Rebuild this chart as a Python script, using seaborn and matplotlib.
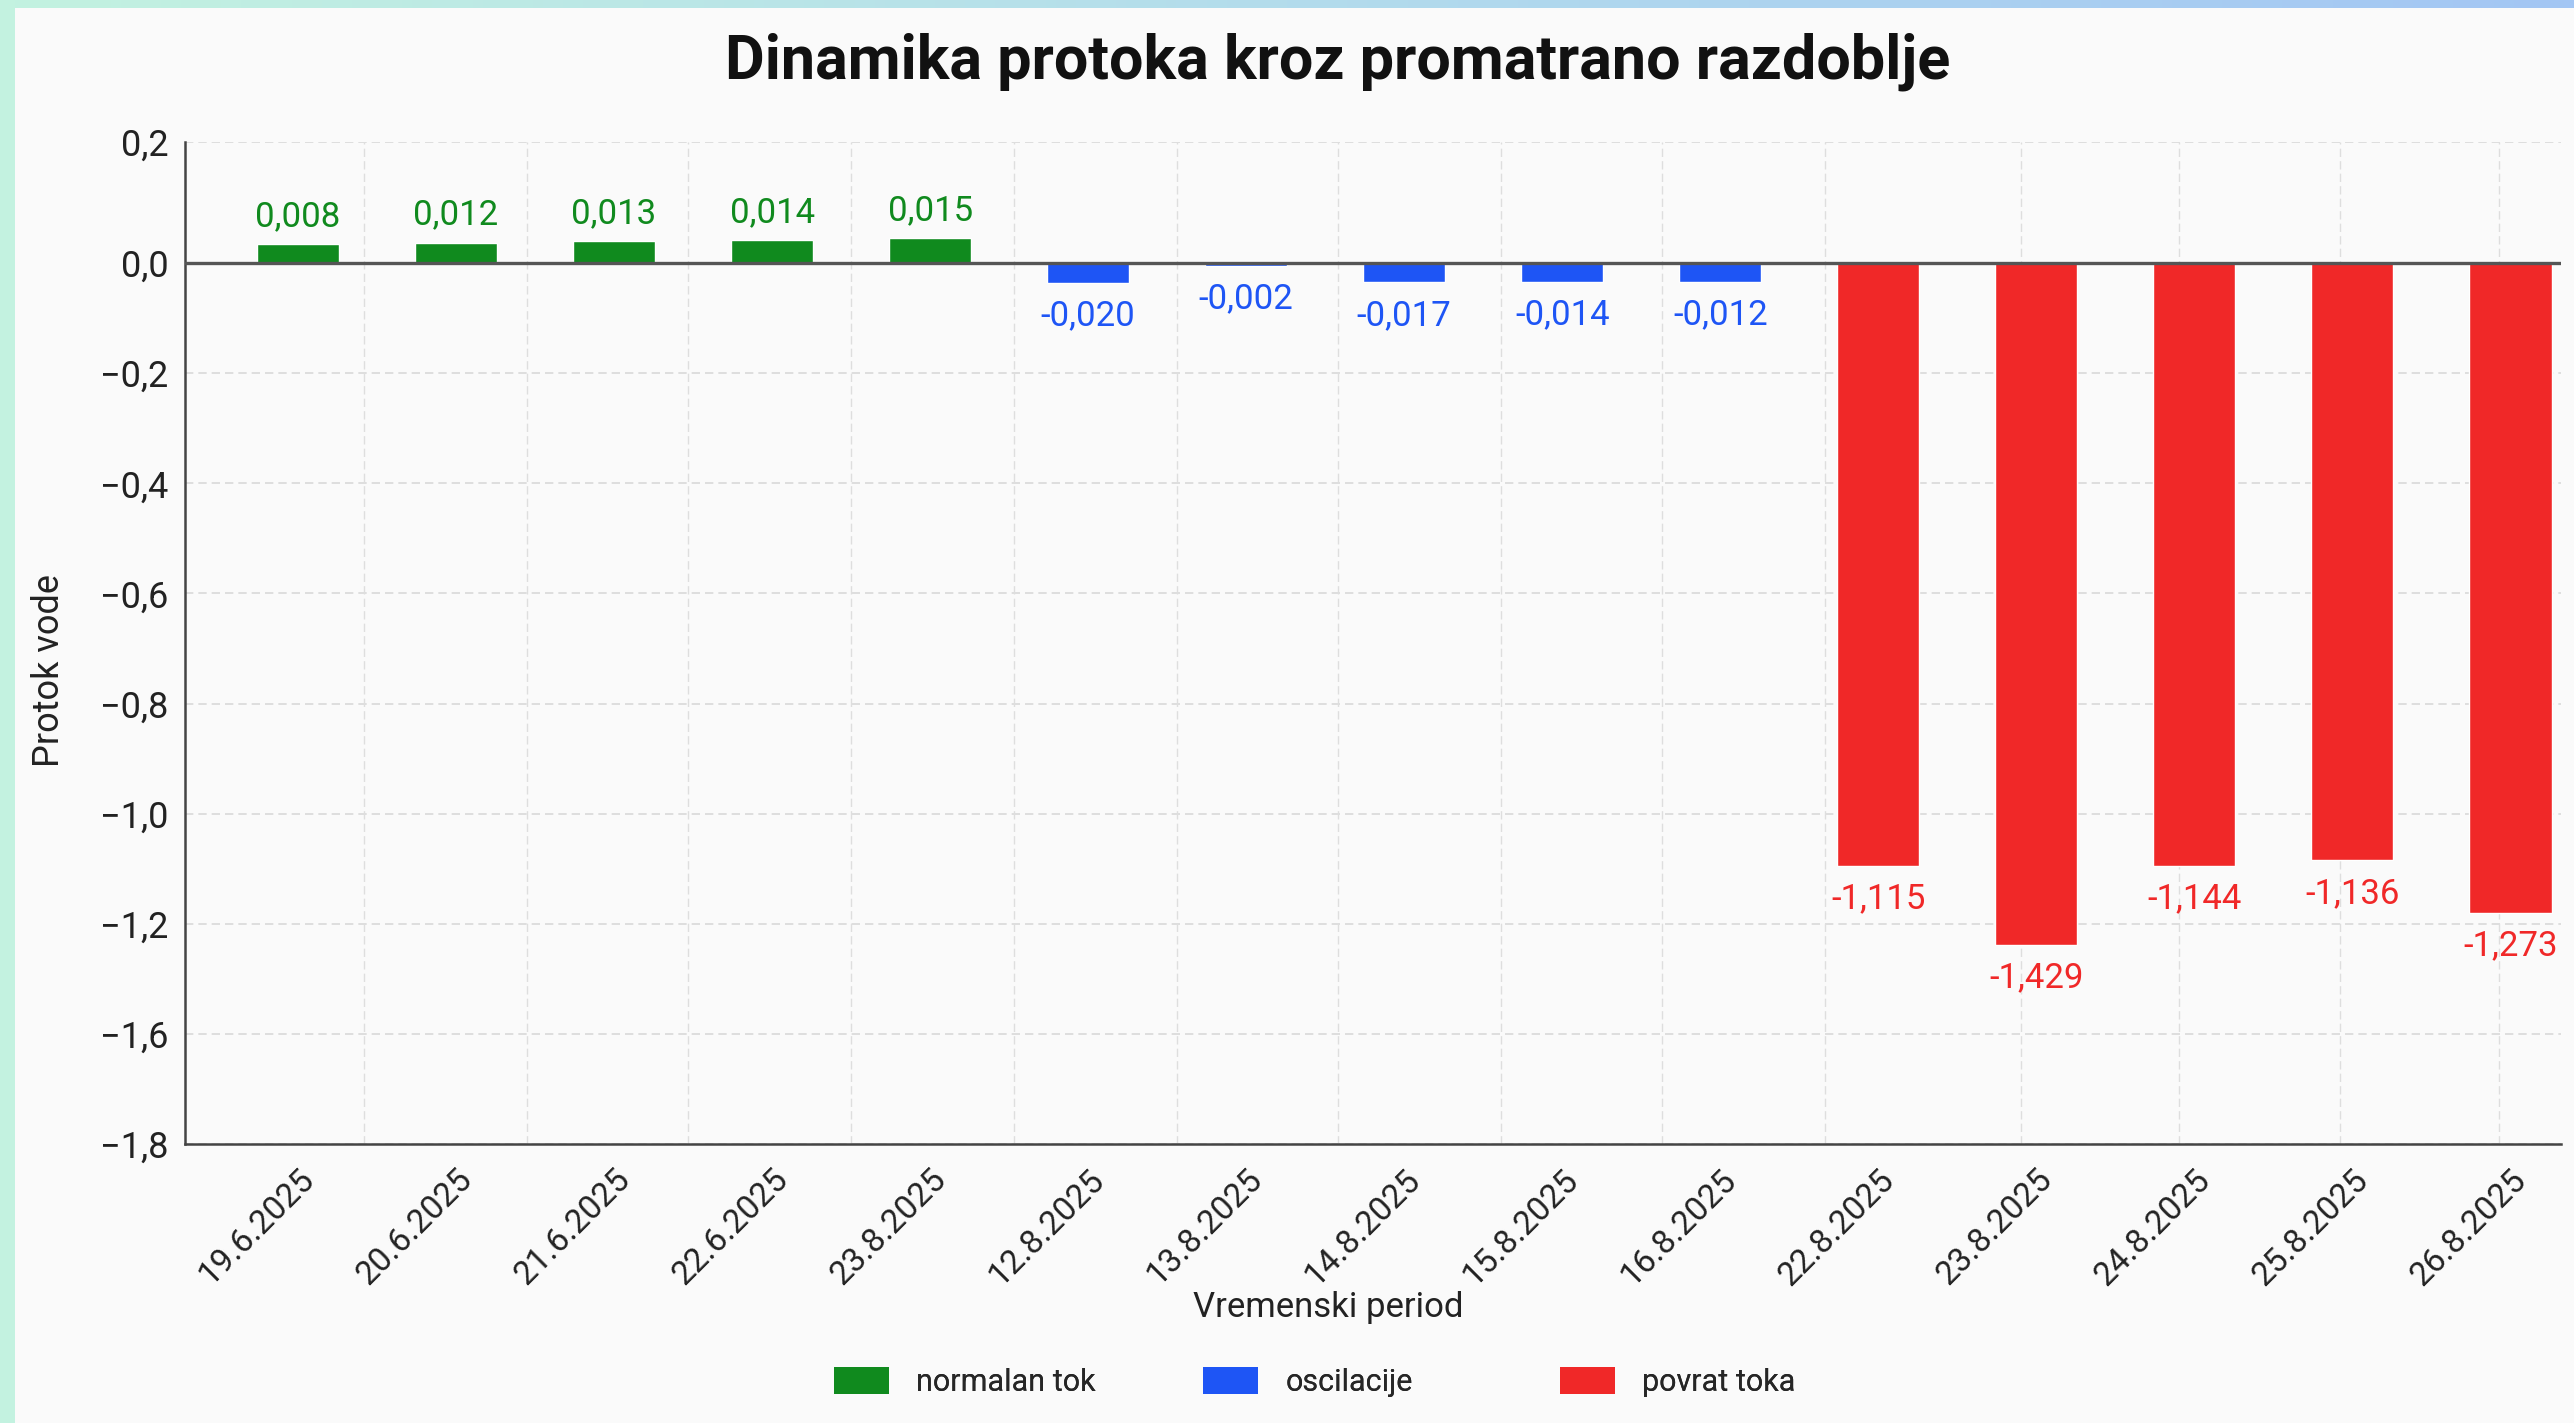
import numpy as np
import matplotlib
matplotlib.use("Agg")
import matplotlib.pyplot as plt
from matplotlib.patches import Patch, Rectangle
import pandas as pd
import seaborn as sns

# ----------------------------
# PODACI
# ----------------------------
datumi = ['19.6.2025', '20.6.2025', '21.6.2025', '22.6.2025', '23.8.2025',
          '12.8.2025', '13.8.2025', '14.8.2025', '15.8.2025', '16.8.2025',
          '22.8.2025', '23.8.2025 ', '24.8.2025', '25.8.2025', '26.8.2025']
kategorije = ['normalan tok'] * 5 + ['oscilacije'] * 5 + ['povrat toka'] * 5
# visina stupca kako je nacrtana na slici
visine = [0.034, 0.037, 0.040, 0.042, 0.045,
          -0.036, -0.005, -0.035, -0.034, -0.034,
          -1.095, -1.238, -1.095, -1.085, -1.180]
# vrijednosti ispisane iznad / ispod stupaca
oznake = ['0,008', '0,012', '0,013', '0,014', '0,015',
          '-0,020', '-0,002', '-0,017', '-0,014', '-0,012',
          '-1,115', '-1,429', '-1,144', '-1,136', '-1,273']
y_oznake = ['0,2', '0,0', '\u22120,2', '\u22120,4', '\u22120,6', '\u22120,8',
            '\u22121,0', '\u22121,2', '\u22121,6', '\u22121,8']

boje = {'normalan tok': '#108a1e', 'oscilacije': '#1e55f5', 'povrat toka': '#f02828'}

df = pd.DataFrame({'datum': datumi, 'kategorija': kategorije, 'visina': visine})

# ----------------------------
# STIL
# ----------------------------
sns.set_theme(style='white')
plt.rcParams['font.family'] = ['Roboto', 'DejaVu Sans']
pozadina = '#fafafa'

fig = plt.figure(figsize=(25.74, 14.23), dpi=100, facecolor=pozadina)
ax = fig.add_axes([185 / 2574, 1 - 1144 / 1423, (2561 - 185) / 2574, (1144 - 142) / 1423])
ax.set_facecolor(pozadina)

sns.barplot(data=df, x='datum', y='visina', hue='kategorija', palette=boje,
            dodge=False, width=0.52, saturation=1, legend=False, ax=ax)

# oznake vrijednosti
for i, (h, txt, kat) in enumerate(zip(visine, oznake, kategorije)):
    if h >= 0:
        ax.annotate(txt, (i, h), xytext=(0, 8), textcoords='offset points',
                    ha='center', va='bottom', fontsize=25, color=boje[kat])
    else:
        ax.annotate(txt, (i, h), xytext=(0, -12), textcoords='offset points',
                    ha='center', va='top', fontsize=25, color=boje[kat])

# osi
y_pozicije = [0.22, 0.0, -0.2, -0.4, -0.6, -0.8, -1.0, -1.2, -1.4, -1.6]
ax.set_ylim(-1.6, 0.22)
ax.set_xlim(-0.715, 14.32)
ax.set_yticks(y_pozicije)
ax.set_yticklabels(y_oznake, fontsize=26, color='#222222')
ax.set_xticks(range(len(datumi)))
ax.set_xticklabels([d.strip() for d in datumi], rotation=45, ha='right',
                   rotation_mode='anchor', fontsize=24, color='#222222')
ax.tick_params(axis='y', length=0, pad=12)
ax.tick_params(axis='x', length=0, pad=14)
ax.set_xlabel('')
ax.set_ylabel('')

# mreza
for y in y_pozicije:
    ax.axhline(y, color='#d9d9d9', lw=1.2, ls=(0, (5, 3)), zorder=0)
v_mreza = [0.42, 1.45, 2.47, 3.50, 4.53, 5.56, 6.58, 7.61, 8.63, 9.66,
           10.90, 11.90, 12.92, 13.93]
for x in v_mreza:
    ax.axvline(x, color='#dedede', lw=1.0, ls=(0, (6, 3)), zorder=0)
ax.axhline(0, color='#555555', lw=2.4, zorder=3)

for s in ['top', 'right']:
    ax.spines[s].set_visible(False)
for s in ['left', 'bottom']:
    ax.spines[s].set_color('#444444')
    ax.spines[s].set_linewidth(1.8)

# naslovi
fig.text(1338 / 2574, 1 - 62 / 1423, 'Dinamika protoka kroz promatrano razdoblje',
         ha='center', va='center', fontsize=44, fontweight='bold', color='#111111')
fig.text(1328 / 2574, 1 - 1308 / 1423, 'Vremenski period', ha='center', va='center',
         fontsize=25, color='#222222')
fig.text(49 / 2574, 1 - 670 / 1423, 'Protok vode', ha='center', va='center',
         rotation=90, fontsize=26, color='#222222')

# legenda - svaka stavka posebno
leg_x = {'normalan tok': 834, 'oscilacije': 1203, 'povrat toka': 1560}
for k in boje:
    lg = fig.legend(handles=[Patch(facecolor=boje[k], edgecolor='none', label=k)],
                    loc='center left', bbox_to_anchor=(leg_x[k] / 2574, 1 - 1382 / 1423),
                    frameon=False, fontsize=22, handlelength=1.8, handleheight=0.95,
                    handletextpad=0.9, borderpad=0, borderaxespad=0)
    fig.add_artist(lg)

# okvir (gradijent gore, traka lijevo)
traka = fig.add_axes([0, 1 - 8 / 1423, 1, 8 / 1423])
grad = np.linspace(0, 1, 256).reshape(1, -1)
cmap = matplotlib.colors.LinearSegmentedColormap.from_list('g', ['#c3f2e0', '#b3dcec', '#a3c6f4'])
traka.imshow(grad, aspect='auto', cmap=cmap, extent=[0, 1, 0, 1])
traka.axis('off')
fig.add_artist(Rectangle((0, 0), 15 / 2574, 1, transform=fig.transFigure,
                         facecolor='#c3f2e0', edgecolor='none'))

fig.savefig('out.png', dpi=100, facecolor=pozadina)
